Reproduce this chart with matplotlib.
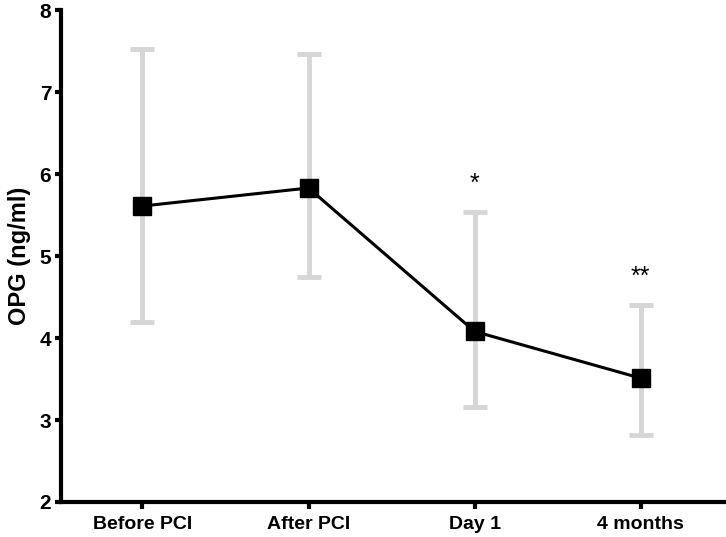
import matplotlib
matplotlib.use("Agg")
import matplotlib.pyplot as plt

plt.rcParams['font.family'] = ['Liberation Sans', 'DejaVu Sans']
plt.rcParams['font.weight'] = 'bold'

groups = ['Before PCI', 'After PCI', 'Day 1', '4 months']
means = [5.61, 5.83, 4.08, 3.51]
upper = [7.52, 7.47, 5.54, 4.40]
lower = [4.20, 4.75, 3.16, 2.82]
stars = ['', '', '*', '**']

x = list(range(len(groups)))
err_lo = [m - l for m, l in zip(means, lower)]
err_hi = [u - m for u, m in zip(upper, means)]

fig = plt.figure(figsize=(7.26, 5.37), dpi=100)
ax = fig.add_axes([0.084, 0.0652, 0.913, 0.916])

ax.errorbar(x, means, yerr=[err_lo, err_hi], fmt='none', ecolor='#d6d6d6',
            elinewidth=3.5, capsize=8.5, capthick=3.5, zorder=1)
ax.plot(x, means, color='black', lw=2.2, marker='s', ms=13,
        mfc='black', mec='black', zorder=3)

for xi, u, s in zip(x, upper, stars):
    if s:
        ax.text(xi, u + 0.2, s, ha='center', va='bottom', fontsize=18,
                fontweight='normal')

ax.set_xlim(-0.49, 3.5)
ax.set_ylim(2, 8)
ax.set_xticks(x)
ax.set_xticklabels(groups)
ax.set_yticks(range(2, 9))
ax.set_ylabel('OPG (ng/ml)', fontsize=17, fontweight='bold', labelpad=6)

for sp in ['top', 'right']:
    ax.spines[sp].set_visible(False)
for sp in ['left', 'bottom']:
    ax.spines[sp].set_linewidth(3)
ax.tick_params(axis='y', width=3, length=4, labelsize=15, pad=3)
ax.tick_params(axis='x', width=3, length=5, labelsize=14, pad=5)

fig.savefig('out.png', dpi=100)
